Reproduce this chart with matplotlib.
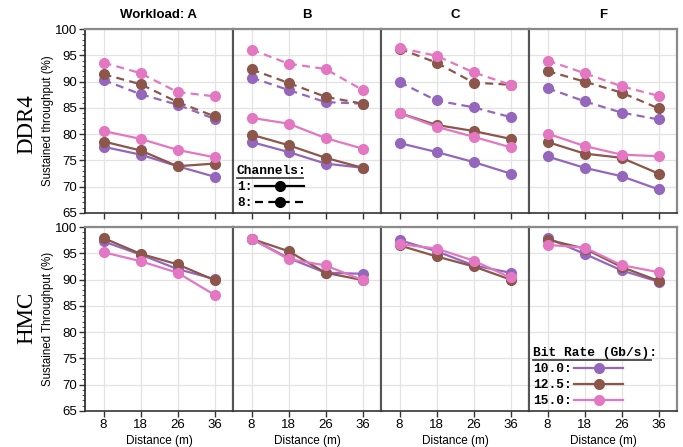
import matplotlib
matplotlib.use("Agg")
import matplotlib.pyplot as plt
from matplotlib.lines import Line2D
import numpy as np

distances = [8, 18, 26, 36]
workloads = ["A", "B", "C", "F"]
bit_rates = ["10.0", "12.5", "15.0"]
rate_colors = ["#9467bd", "#8c564b", "#e377c2"]

# DDR4, 1 channel (rows: workloads A, B, C, F)
ddr4_ch1_10 = [[77.6, 76.1, 73.9, 71.9], [78.5, 76.6, 74.4, 73.6],
               [78.3, 76.6, 74.7, 72.5], [75.75, 73.6, 72.0, 69.5]]
ddr4_ch1_125 = [[78.6, 76.9, 73.9, 74.4], [79.9, 77.9, 75.5, 73.6],
                [84.0, 81.75, 80.6, 79.1], [78.5, 76.3, 75.5, 72.5]]
ddr4_ch1_15 = [[80.6, 79.1, 77.0, 75.6], [83.1, 82.0, 79.25, 77.25],
               [84.0, 81.4, 79.5, 77.5], [80.1, 77.75, 76.1, 75.8]]
# DDR4, 8 channels
ddr4_ch8_10 = [[90.3, 87.6, 85.6, 82.9], [90.75, 88.4, 86.1, 85.8],
               [89.9, 86.4, 85.1, 83.25], [88.75, 86.25, 84.1, 82.8]]
ddr4_ch8_125 = [[91.4, 89.5, 86.1, 83.4], [92.3, 89.75, 87.1, 85.8],
                [96.25, 93.6, 89.8, 89.4], [92.0, 90.0, 87.9, 84.9]]
ddr4_ch8_15 = [[93.6, 91.6, 88.0, 87.2], [96.1, 93.4, 92.4, 88.4],
               [96.4, 94.9, 91.75, 89.4], [94.0, 91.6, 89.1, 87.3]]
# HMC
hmc_10 = [[97.25, 94.75, 92.0, 90.1], [97.75, 94.1, 91.3, 91.1],
          [97.5, 95.4, 92.7, 91.3], [97.9, 94.9, 91.75, 89.6]]
hmc_125 = [[97.9, 94.9, 92.9, 89.9], [97.75, 95.4, 91.3, 89.9],
           [96.5, 94.4, 92.5, 90.0], [97.6, 95.9, 92.4, 89.75]]
hmc_15 = [[95.2, 93.5, 91.3, 87.1], [97.75, 93.9, 92.7, 89.9],
          [96.75, 95.9, 93.6, 90.4], [96.6, 96.1, 92.75, 91.4]]

ddr4_ch1 = [ddr4_ch1_10, ddr4_ch1_125, ddr4_ch1_15]
ddr4_ch8 = [ddr4_ch8_10, ddr4_ch8_125, ddr4_ch8_15]
hmc = [hmc_10, hmc_125, hmc_15]

plt.rcParams["font.family"] = ["Liberation Sans", "DejaVu Sans"]

W, H = 683, 447
fig = plt.figure(figsize=(W / 100, H / 100), dpi=100)

lefts = [85, 233, 381, 529]
pw = 148
rows = [(29, 213), (227, 411)]

LW = 1.6
MS = 7.0
DASH = (3.6, 2.4)
mono = {"family": "Liberation Mono", "weight": "bold", "size": 9.3}

axes = []
xs = np.arange(len(distances))
for r, (top, bot) in enumerate(rows):
    row_axes = []
    for c, lx in enumerate(lefts):
        ax = fig.add_axes([lx / W, 1 - bot / H, pw / W, (bot - top) / H])
        ax.set_xlim(-0.5, 3.5)
        ax.set_ylim(65, 100)
        ax.set_xticks(xs)
        ax.set_yticks(np.arange(65, 101, 5))
        ax.grid(True, color="#e3e3e3", linewidth=0.9)
        ax.set_axisbelow(True)
        ax.tick_params(axis="x", direction="out", length=4, width=1,
                       color="#333333", labelsize=9.5, pad=1.5)
        if c == 0:
            ax.set_yticks(np.arange(65, 101, 1), minor=True)
            ax.tick_params(axis="y", which="major", direction="out", length=4,
                           width=1, color="#333333", labelsize=9.5, pad=1.5)
            ax.tick_params(axis="y", which="minor", direction="out", length=2,
                           width=0.7, color="#555555")
        else:
            ax.tick_params(axis="y", left=False, labelleft=False)
        if r == 0:
            ax.tick_params(axis="x", labelbottom=False)
        else:
            ax.set_xticklabels([str(d) for d in distances])
            ax.set_xlabel("Distance (m)", fontsize=8.5, labelpad=3)
        for s in ["top", "right"]:
            ax.spines[s].set_color("#8a8a8a")
            ax.spines[s].set_linewidth(1.6)
        ax.spines["bottom"].set_color("#333333")
        ax.spines["bottom"].set_linewidth(1.2)
        ax.spines["left"].set_color("#222222" if c == 0 else "#555555")
        ax.spines["left"].set_linewidth(1.2 if c == 0 else 1.5)
        row_axes.append(ax)
    axes.append(row_axes)

for c, wl in enumerate(workloads):
    ax = axes[0][c]
    ax.set_title("Workload: A" if wl == "A" else wl, fontsize=9.5,
                 fontweight="bold", pad=8)
    for i in range(3):
        ax.plot(xs, ddr4_ch8[i][c], color=rate_colors[i], lw=LW,
                dashes=DASH, marker="o", ms=MS, zorder=3)
    for i in range(3):
        ax.plot(xs, ddr4_ch1[i][c], color=rate_colors[i], lw=LW,
                marker="o", ms=MS, zorder=3)
    ax2 = axes[1][c]
    for i in range(3):
        ax2.plot(xs, hmc[i][c], color=rate_colors[i], lw=LW,
                 marker="o", ms=MS, zorder=3)

axes[0][0].set_ylabel("Sustained throughput (%)", fontsize=8.3, labelpad=0.5)
axes[1][0].set_ylabel("Sustained Throughput (%)", fontsize=8.3, labelpad=0.5)

fig.text(27 / W, 1 - 124 / H, "DDR4", rotation=90, ha="center", va="center",
         fontsize=16.5, family="Liberation Serif")
fig.text(27 / W, 1 - 318 / H, "HMC", rotation=90, ha="center", va="center",
         fontsize=16.5, family="Liberation Serif")

# Channels legend
ch_handles = [Line2D([], [], color="black", lw=LW, marker="o", ms=MS),
              Line2D([], [], color="black", lw=LW, marker="o", ms=MS, dashes=DASH)]
leg1 = axes[0][1].legend(ch_handles, ["1:", "8:"], loc="lower left",
                         bbox_to_anchor=(0.0, 0.0), markerfirst=False,
                         frameon=False, prop=mono, title="Channels:",
                         title_fontproperties=mono, alignment="left",
                         handlelength=3.8, handletextpad=0.2,
                         labelspacing=0.3, borderpad=0.3, borderaxespad=0.0)

br_handles = [Line2D([], [], color=rate_colors[i], lw=LW, marker="o", ms=MS)
              for i in range(3)]
leg2 = axes[1][3].legend(br_handles, [b + ":" for b in bit_rates], loc="lower left",
                         bbox_to_anchor=(0.0, 0.0), markerfirst=False,
                         frameon=False, prop=mono, title="Bit Rate (Gb/s):",
                         title_fontproperties=mono, alignment="left",
                         handlelength=3.8, handletextpad=0.2,
                         labelspacing=0.3, borderpad=0.3, borderaxespad=0.0)

fig.canvas.draw()
renderer = fig.canvas.get_renderer()
for leg in (leg1, leg2):
    bb = leg.get_title().get_window_extent(renderer)
    x0, x1 = bb.x0, bb.x0 + (bb.x1 - bb.x0) * 0.95
    y = bb.y0 - 1.0
    fig.add_artist(Line2D([x0 / W, x1 / W], [y / H, y / H], color="#444444",
                          lw=1.3, transform=fig.transFigure))

fig.savefig("out.png", dpi=100)
